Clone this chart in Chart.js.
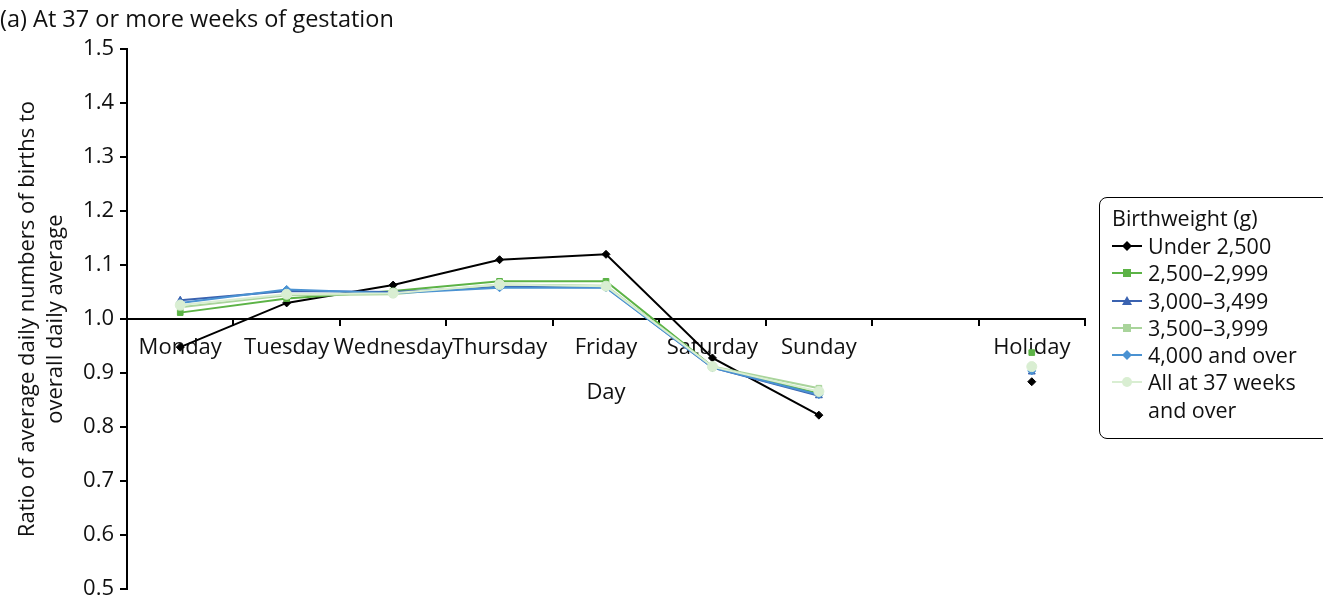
<!DOCTYPE html>
<html>
<head>
<meta charset="utf-8">
<script src="https://cdn.jsdelivr.net/npm/chart.js@4.4.0/dist/chart.umd.min.js"></script>
<style>
  html, body { margin: 0; padding: 0; background: #fff; }
  #wrap { position: relative; width: 1323px; height: 603px; }
  #leyenda {
    position: absolute; left: 1099px; top: 197px; width: 240px; height: 242px;
    border: 1.5px solid #000; border-radius: 8px; box-sizing: border-box;
    font-family: 'Open Sans', sans-serif; font-size: 21.5px; color: #111;
    padding: 6px 0 0 12px;
  }
  #leyenda .tit { line-height: 28px; margin-bottom: 0; }
  #leyenda .item { display: flex; align-items: flex-start; line-height: 27.3px; }
  #leyenda svg { flex: none; margin-right: 6px; margin-top: 4px; }
</style>
</head>
<body>
<div id="wrap">
  <canvas id="miGrafico" width="1323" height="603"></canvas>
  <div id="leyenda"></div>
</div>
<script>
// (a) At 37 or more weeks of gestation

const dias = ['Monday', 'Tuesday', 'Wednesday', 'Thursday', 'Friday', 'Saturday', 'Sunday', '', 'Holiday'];
const ticksY = [0.5, 0.6, 0.7, 0.8, 0.9, 1.0, 1.1, 1.2, 1.3, 1.4, 1.5];

const menos2500 = [0.948, 1.030, 1.063, 1.110, 1.120, 0.928, 0.822, null, 0.884];
const de2500a2999 = [1.012, 1.038, 1.052, 1.070, 1.070, 0.912, 0.862, null, 0.938];
const de3000a3499 = [1.035, 1.052, 1.050, 1.060, 1.059, 0.910, 0.858, null, 0.902];
const de3500a3999 = [1.022, 1.044, 1.046, 1.064, 1.062, 0.912, 0.872, null, 0.912];
const de4000oMas = [1.030, 1.055, 1.048, 1.058, 1.058, 0.910, 0.860, null, 0.904];
const todos37 = [1.026, 1.046, 1.048, 1.064, 1.061, 0.912, 0.866, null, 0.912];

const fuente = "'Open Sans', sans-serif";
const tam = 22;

const series = [
    { label: 'Under 2,500', data: menos2500, color: '#000000', punto: 'rectRot', radio: 4 },
    { label: '2,500\u20132,999', data: de2500a2999, color: '#5cb346', punto: 'rect', radio: 4 },
    { label: '3,000\u20133,499', data: de3000a3499, color: '#3a62b0', punto: 'triangle', radio: 4 },
    { label: '3,500\u20133,999', data: de3500a3999, color: '#a9d49b', punto: 'rect', radio: 4 },
    { label: '4,000 and over', data: de4000oMas, color: '#4a92d2', punto: 'rectRot', radio: 4 },
    { label: ['All at 37 weeks', 'and over'], data: todos37, color: '#d9eed2', punto: 'circle', radio: 5 }
];

const datasets = series.map((s, i) => ({
    label: s.label,
    data: s.data,
    borderColor: s.color,
    backgroundColor: s.color,
    borderWidth: 2,
    pointStyle: s.punto,
    pointRadius: s.radio,
    pointBorderWidth: 1,
    spanGaps: false,
    tension: 0,
    order: series.length - i
}));

const ctx = document.getElementById('miGrafico').getContext('2d');
const chart = new Chart(ctx, {
    type: 'line',
    data: { labels: dias, datasets: datasets },
    options: {
        responsive: false,
        animation: false,
        layout: { padding: { left: 0, right: 238, top: 0, bottom: 0 } },
        plugins: {
            legend: { display: false },
            tooltip: { enabled: false },
            title: {
                display: true,
                text: '(a) At 37 or more weeks of gestation',
                align: 'start',
                color: '#111',
                font: { family: fuente, size: 23.5, weight: 'normal' },
                padding: { top: 6, bottom: 15 }
            }
        },
        scales: {
            x: {
                position: { y: 1.0 },
                offset: true,
                grid: { display: true, offset: true, drawOnChartArea: false, tickLength: 6, color: '#000', lineWidth: 2 },
                border: { display: true, color: '#000', width: 2 },
                ticks: { color: '#111', font: { family: fuente, size: tam }, padding: 9, maxRotation: 0, autoSkip: false },
                title: { display: true, text: 'Day', color: '#111', font: { family: fuente, size: tam }, padding: { top: 10 } }
            },
            y: {
                min: 0.5,
                max: 1.5,
                afterBuildTicks: (scale) => { scale.ticks = ticksY.map(v => ({ value: v })); },
                afterFit: (scale) => { scale.width = 127; scale.paddingBottom = 14; },
                grid: { display: true, drawOnChartArea: false, tickLength: 7, color: '#000', lineWidth: 2 },
                border: { display: true, color: '#000', width: 2 },
                ticks: { color: '#111', font: { family: fuente, size: tam }, padding: 6, callback: (v) => Number(v).toFixed(1) },
                title: {
                    display: true,
                    text: ['Ratio of average daily numbers of births to', 'overall daily average'],
                    color: '#111',
                    font: { family: fuente, size: tam, lineHeight: 1.27 },
                    padding: { top: 14, bottom: 4 }
                }
            }
        }
    }
});

// Leyenda en HTML a partir de los datasets
function simbolo(s) {
    const c = s.color;
    let marca = '';
    if (s.punto === 'rectRot') marca = `<polygon points="15,5 20,10 15,15 10,10" fill="${c}"/>`;
    else if (s.punto === 'rect') marca = `<rect x="11" y="6" width="8" height="8" fill="${c}"/>`;
    else if (s.punto === 'triangle') marca = `<polygon points="15,5 20,14 10,14" fill="${c}"/>`;
    else marca = `<circle cx="15" cy="10" r="5" fill="${c}"/>`;
    return `<svg width="30" height="20"><line x1="0" y1="10" x2="30" y2="10" stroke="${c}" stroke-width="2"/>${marca}</svg>`;
}

const leyenda = document.getElementById('leyenda');
let html = '<div class="tit">Birthweight (g)</div>';
series.forEach(s => {
    const texto = Array.isArray(s.label) ? s.label.join('<br>') : s.label;
    html += `<div class="item">${simbolo(s)}<span>${texto}</span></div>`;
});
leyenda.innerHTML = html;
</script>
</body>
</html>
